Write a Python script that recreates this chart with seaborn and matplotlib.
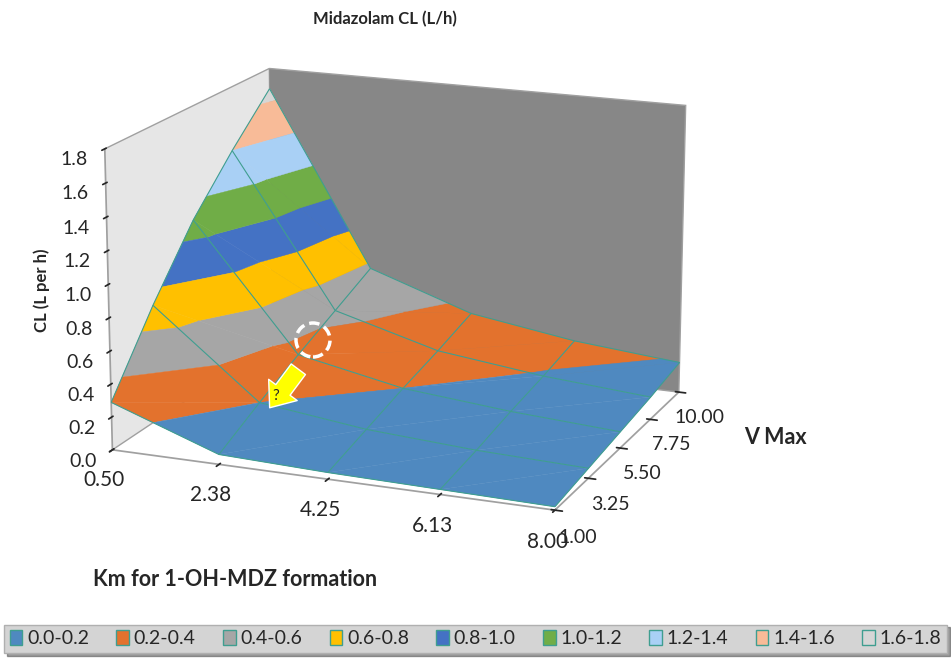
import numpy as np
import matplotlib
matplotlib.use("Agg")
import matplotlib.pyplot as plt
import seaborn as sns
from matplotlib.patches import Patch, Ellipse, FancyArrowPatch
from mpl_toolkits.mplot3d.art3d import Poly3DCollection

# data
km = [0.50, 2.38, 4.25, 6.13, 8.00]
vmax = [1.00, 3.25, 5.50, 7.75, 10.00]
# rows = V Max, cols = Km
cl = [
    [0.29, 0.06, 0.04, 0.03, 0.02],
    [0.72, 0.20, 0.12, 0.08, 0.06],
    [1.10, 0.33, 0.20, 0.14, 0.10],
    [1.40, 0.45, 0.27, 0.19, 0.14],
    [1.67, 0.57, 0.35, 0.25, 0.19],
]
band_edges = [0.0, 0.2, 0.4, 0.6, 0.8, 1.0, 1.2, 1.4, 1.6, 1.8]
band_labels = ["0.0-0.2", "0.2-0.4", "0.4-0.6", "0.6-0.8", "0.8-1.0",
               "1.0-1.2", "1.2-1.4", "1.4-1.6", "1.6-1.8"]
band_colors = sns.color_palette(["#4f89c0", "#e3722d", "#a6a6a6", "#ffc000", "#4472c4",
                                 "#70ad47", "#a9d0f5", "#f8bb98", "#d6d6d6"])

sns.set_theme(style="white")
plt.rcParams["font.family"] = ["Lato", "DejaVu Sans"]

X, Y = np.meshgrid(km, vmax)
Z = np.array(cl)


def clip_half(pts, f):
    # keep the part of polygon where f >= 0
    out = []
    n = len(pts)
    for i in range(n):
        p, q = pts[i], pts[(i + 1) % n]
        fp, fq = f(p), f(q)
        if fp >= 0:
            out.append(p)
        if (fp >= 0) != (fq >= 0):
            t = fp / (fp - fq)
            out.append(p + t * (q - p))
    return out


polys, colors = [], []
for i in range(len(vmax) - 1):
    for j in range(len(km) - 1):
        c = [np.array([X[a, b], Y[a, b], Z[a, b]]) for a, b in
             [(i, j), (i, j + 1), (i + 1, j + 1), (i + 1, j)]]
        for tri in ([c[0], c[1], c[2]], [c[0], c[2], c[3]]):
            for k in range(len(band_labels)):
                lo, hi = band_edges[k], band_edges[k + 1]
                part = clip_half(tri, lambda p: p[2] - lo)
                if len(part) >= 3:
                    part = clip_half(part, lambda p: hi - p[2])
                if len(part) >= 3:
                    polys.append(part)
                    colors.append(band_colors[k])

fig = plt.figure(figsize=(9.51, 6.72), dpi=100)
ax = fig.add_axes([-0.075, 0.118, 0.98, 0.92], projection="3d")
ax.set_proj_type("persp", focal_length=1.0)
ax.view_init(elev=16, azim=-68)
ax.set_box_aspect((1.62, 1.35, 1.07), zoom=1.06)

surf = Poly3DCollection(polys, facecolors=colors, edgecolors=colors, linewidths=0.3)
ax.add_collection3d(surf)
ax.plot_wireframe(X, Y, Z, color="#3f9e90", linewidth=0.8, zorder=5)

ax.set_xlim(km[0], km[-1])
ax.set_ylim(vmax[0], vmax[-1])
ax.set_zlim(0, 1.8)
ax.set_xticks(km)
ax.set_xticklabels([f"{v:.2f}" for v in km], fontsize=15)
ax.set_yticks(vmax)
ax.set_yticklabels([f"{v:.2f}" for v in vmax], fontsize=14)
ax.set_zticks(band_edges)
ax.set_zticklabels([f"{v:.1f}" for v in band_edges], fontsize=14)
ax.zaxis.set_ticks_position("lower")
ax.grid(False)

ax.xaxis.set_pane_color("#e6e6e6")
ax.yaxis.set_pane_color("#878787")
ax.zaxis.set_pane_color((1, 1, 1, 0))
for axis in (ax.xaxis, ax.yaxis, ax.zaxis):
    axis.line.set_color("#a0a0a0")
    axis.pane.set_edgecolor("#a0a0a0")

fig.text(0.405, 0.972, "Midazolam CL (L/h)", ha="center", va="center",
         fontsize=12, fontweight="bold")
fig.text(235 / 951, 1 - 580 / 672, "Km for 1-OH-MDZ formation", ha="center", va="center",
         fontsize=15.5, fontweight="bold")
fig.text(775 / 951, 1 - 437 / 672, "V Max", ha="center", va="center",
         fontsize=15.5, fontweight="bold")
fig.text(42 / 951, 1 - 290 / 672, "CL (L per h)", ha="center", va="center",
         rotation=90, fontsize=12, fontweight="bold")

# annotations on the picture
fig.patches.append(Ellipse((313 / 951, 1 - 340 / 672), 34 / 951, 34 / 672,
                           transform=fig.transFigure, fill=False, edgecolor="white",
                           linewidth=2.5, linestyle=(0, (3, 1.5)), zorder=10))
fig.patches.append(FancyArrowPatch((300 / 951, 1 - 367 / 672), (268 / 951, 1 - 410 / 672),
                                   transform=fig.transFigure,
                                   arrowstyle="simple,head_width=1.6,head_length=1.0,tail_width=0.8",
                                   mutation_scale=16, facecolor="#ffff00",
                                   edgecolor="white", linewidth=1, zorder=10))
fig.text(276 / 951, 1 - 396 / 672, "?", fontsize=11, ha="center", va="center", zorder=11)

handles = [Patch(facecolor=c, edgecolor="#3f9e90", label=l)
           for c, l in zip(band_colors, band_labels)]
leg = fig.legend(handles=handles, ncol=9, loc="lower left",
                 bbox_to_anchor=(0.004, 0.028, 0.992, 0.04), mode="expand",
                 fontsize=14, frameon=True, fancybox=False, shadow=True,
                 handlelength=0.65, handleheight=0.75, handletextpad=0.25,
                 borderpad=0.3, columnspacing=0.6, borderaxespad=0.0)
leg.get_frame().set_facecolor("#d4d4d4")
leg.get_frame().set_edgecolor("#b0b0b0")

fig.savefig("out.png", dpi=100)
